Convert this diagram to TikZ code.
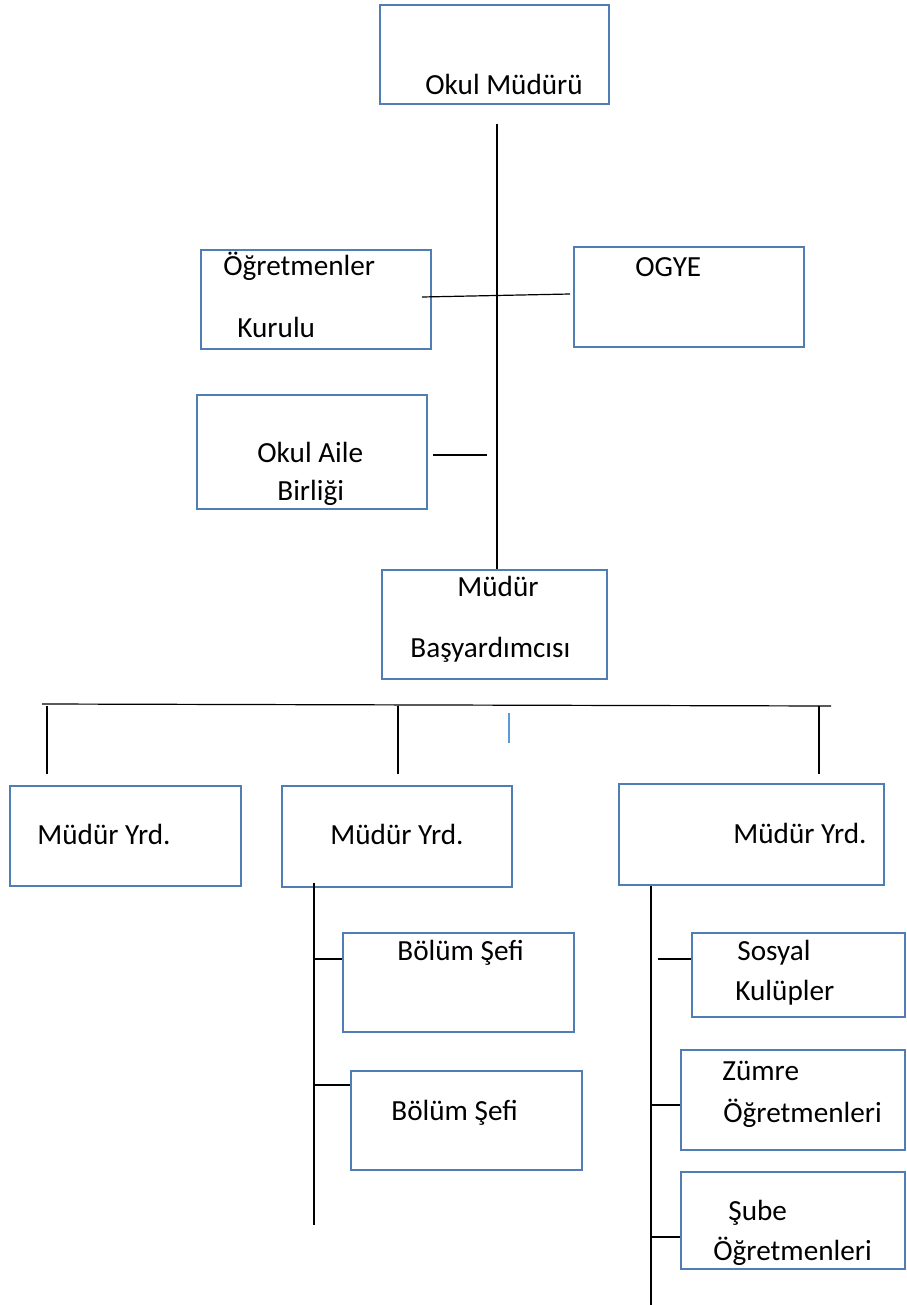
\documentclass[tikz,border=0pt]{standalone}
\usepackage{fontspec}
\setmainfont{Carlito}
\usepackage{tikz}
\definecolor{boxblue}{RGB}{79,125,180}
\definecolor{tickblue}{RGB}{91,155,213}

\begin{document}
\begin{tikzpicture}[x=0.5pt,y=-0.5pt,
  kutu/.style={rectangle,draw=boxblue,line width=1.3pt,inner sep=0pt},
  yazi/.style={anchor=base west,inner sep=0pt,font=\fontsize{14.6}{17}\selectfont},
  cizgi/.style={line width=0.6pt}]
\useasboundingbox (0,0) rectangle (906,1305);
% kutular
\node [kutu,minimum width=229*0.5pt,minimum height=99*0.5pt] (mudur) at (494.5,54.5) {};
\node [kutu,minimum width=230*0.5pt,minimum height=99*0.5pt] (ogk) at (316,299.5) {};
\node [kutu,minimum width=230*0.5pt,minimum height=100*0.5pt] (ogye) at (689,297) {};
\node [kutu,minimum width=230*0.5pt,minimum height=114*0.5pt] (oab) at (312,452) {};
\node [kutu,minimum width=225*0.5pt,minimum height=109*0.5pt] (bas) at (494.5,624.5) {};
\node [kutu,minimum width=231*0.5pt,minimum height=100*0.5pt] (yrd1) at (125.5,836) {};
\node [kutu,minimum width=230*0.5pt,minimum height=101*0.5pt] (yrd2) at (397,836.5) {};
\node [kutu,minimum width=265*0.5pt,minimum height=101*0.5pt] (yrd3) at (751.5,834.5) {};
\node [kutu,minimum width=231*0.5pt,minimum height=99*0.5pt] (sef1) at (458.5,982.5) {};
\node [kutu,minimum width=231*0.5pt,minimum height=99*0.5pt] (sef2) at (466.5,1120.5) {};
\node [kutu,minimum width=213*0.5pt,minimum height=84*0.5pt] (sosyal) at (798.5,975) {};
\node [kutu,minimum width=224*0.5pt,minimum height=100*0.5pt] (zumre) at (793,1100) {};
\node [kutu,minimum width=224*0.5pt,minimum height=97*0.5pt] (sube) at (793,1220.5) {};
% yazilar
\node [yazi] (t1) at (425,95) {Okul Müdürü};
\node [yazi] (t2) at (223,275) {Öğretmenler};
\node [yazi] (t3) at (237,337) {Kurulu};
\node [yazi] (t4) at (635,277) {OGYE};
\node [yazi] (t5) at (257,462) {Okul Aile};
\node [yazi] (t6) at (277,500) {Birliği};
\node [yazi] (t7) at (457,596) {Müdür};
\node [yazi] (t8) at (410,657) {Başyardımcısı};
\node [yazi] (t9) at (37,844) {Müdür Yrd.};
\node [yazi] (t10) at (330,844) {Müdür Yrd.};
\node [yazi] (t11) at (733,843) {Müdür Yrd.};
\node [yazi] (t12) at (397,960) {Bölüm Şefi};
\node [yazi] (t13) at (391,1120) {Bölüm Şefi};
\node [yazi] (t14) at (737,960) {Sosyal};
\node [yazi] (t15) at (735,1000) {Kulüpler};
\node [yazi] (t16) at (722,1080) {Zümre};
\node [yazi] (t17) at (723,1122) {Öğretmenleri};
\node [yazi] (t18) at (728,1220) {Şube};
\node [yazi] (t19) at (713,1260) {Öğretmenleri};
% baglantilar
\coordinate (a1) at (497,124);
\draw [cizgi] (a1) -- (a1 |- bas.north);
\coordinate (a2) at (422,297);
\coordinate (a3) at (570,294);
\draw [cizgi] (a2) -- (a3);
\coordinate (a4) at (433,455);
\coordinate (a5) at (487,455);
\draw [cizgi] (a4) -- (a5);
\coordinate (b0) at (42,704);
\coordinate (b1) at (831,706);
\draw [cizgi] (b0) -- (b1);
\foreach \x/\n in {47/c1,398/c2,819/c3} {
  \coordinate (\n) at (\x,706);
  \draw [cizgi] (\n) -- ++(0,68);
}
\coordinate (c4) at (509,713);
\draw [line width=0.6pt,tickblue] (c4) -- ++(0,30);
% orta kol
\coordinate (d1) at (314,883);
\coordinate (d2) at (314,1225);
\draw [cizgi] (d1) -- (d2);
\coordinate (d3) at (314,959);
\draw [cizgi] (d3) -- (d3 -| sef1.west);
\coordinate (d4) at (314,1085);
\draw [cizgi] (d4) -- (d4 -| sef2.west);
% sag kol
\coordinate (e1) at (651,886);
\coordinate (e2) at (651,1305);
\draw [cizgi] (e1) -- (e2);
\coordinate (e3) at (658,959);
\draw [cizgi] (e3) -- (e3 -| sosyal.west);
\coordinate (e4) at (651,1105);
\draw [cizgi] (e4) -- (e4 -| zumre.west);
\coordinate (e5) at (651,1237);
\draw [cizgi] (e5) -- (e5 -| sube.west);
\end{tikzpicture}
\end{document}
